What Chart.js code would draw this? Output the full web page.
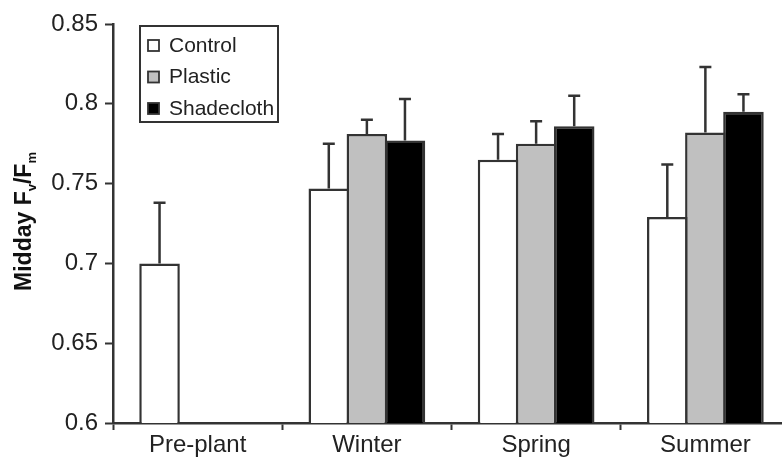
<!DOCTYPE html>
<html>
<head>
<meta charset="utf-8">
<script src="https://cdn.jsdelivr.net/npm/chart.js@4.4.0/dist/chart.umd.min.js"></script>
<style>
html, body { margin:0; padding:0; background:#fff; overflow:hidden; }
#wrap { width:790px; height:467px; }
</style>
</head>
<body>
<div id="wrap"><canvas id="chart1"></canvas></div>
<script>
// data
var categories = ['Pre-plant', 'Winter', 'Spring', 'Summer'];
var seriesNames = ['Control', 'Plastic', 'Shadecloth'];
var control = [0.700, 0.747, 0.765, 0.729];
var controlErr = [0.038, 0.028, 0.016, 0.033];
var plastic = [null, 0.781, 0.775, 0.782];
var plasticErr = [null, 0.009, 0.014, 0.041];
var shadecloth = [null, 0.777, 0.786, 0.795];
var shadeclothErr = [null, 0.026, 0.019, 0.011];
var yTicks = [0.6, 0.65, 0.7, 0.75, 0.8, 0.85];

var errors = [controlErr, plasticErr, shadeclothErr];
var fontName = "'Liberation Sans', Arial, sans-serif";
var ink = '#333';

function makeSet(label, data, fill) {
    return {
        label: label,
        data: data,
        backgroundColor: fill,
        borderColor: ink,
        borderWidth: 2.5,
        borderSkipped: false,
        inflateAmount: 0,
        barPercentage: 1.065,
        categoryPercentage: 0.675
    };
}

// error bars, only the upper half like in the figure
var errorBars = {
    id: 'errorBars',
    afterDatasetsDraw: function (chart) {
        var ctx = chart.ctx;
        var yScale = chart.scales.y;
        ctx.save();
        ctx.strokeStyle = ink;
        ctx.lineWidth = 2.5;
        chart.data.datasets.forEach(function (ds, i) {
            var meta = chart.getDatasetMeta(i);
            meta.data.forEach(function (bar, j) {
                var v = ds.data[j];
                var e = errors[i][j];
                if (v == null || e == null) return;
                var yTop = yScale.getPixelForValue(v + e);
                ctx.beginPath();
                ctx.moveTo(bar.x, bar.y);
                ctx.lineTo(bar.x, yTop);
                ctx.moveTo(bar.x - 6, yTop);
                ctx.lineTo(bar.x + 6, yTop);
                ctx.stroke();
            });
        });
        ctx.restore();
    }
};

// legend box inside the plot, top left
var boxLegend = {
    id: 'boxLegend',
    afterDraw: function (chart) {
        var ctx = chart.ctx;
        var a = chart.chartArea;
        var x0 = a.left + 27, y0 = a.top + 2;
        ctx.save();
        ctx.strokeStyle = ink;
        ctx.lineWidth = 2;
        ctx.strokeRect(x0, y0, 138, 96);
        ctx.font = '21px ' + fontName;
        ctx.textBaseline = 'middle';
        chart.data.datasets.forEach(function (ds, i) {
            var cy = y0 + 19 + i * 31.5;
            ctx.fillStyle = ds.backgroundColor;
            ctx.fillRect(x0 + 8, cy - 5, 11, 11);
            ctx.lineWidth = 1.8;
            ctx.strokeRect(x0 + 8, cy - 5, 11, 11);
            ctx.fillStyle = '#222';
            ctx.fillText(ds.label, x0 + 29, cy + 1);
        });
        ctx.restore();
    }
};

// y title with subscripts: Midday Fv/Fm
var yTitle = {
    id: 'yTitle',
    afterDraw: function (chart) {
        var ctx = chart.ctx;
        var a = chart.chartArea;
        var parts = [
            ['Midday F', 23, 0],
            ['v', 13, 5],
            ['/F', 23, 0],
            ['m', 13, 5]
        ];
        ctx.save();
        var total = 0;
        parts.forEach(function (p) {
            ctx.font = 'bold ' + p[1] + 'px ' + fontName;
            p.push(ctx.measureText(p[0]).width);
            total += p[3];
        });
        ctx.translate(31, (a.top + a.bottom) / 2 - 2);
        ctx.rotate(-Math.PI / 2);
        ctx.fillStyle = '#111';
        ctx.textBaseline = 'alphabetic';
        var x = -total / 2;
        parts.forEach(function (p) {
            ctx.font = 'bold ' + p[1] + 'px ' + fontName;
            ctx.fillText(p[0], x, p[2]);
            x += p[3];
        });
        ctx.restore();
    }
};

var ctx = document.getElementById('chart1').getContext('2d');
var myChart = new Chart(ctx, {
    type: 'bar',
    data: {
        labels: categories,
        datasets: [
            makeSet(seriesNames[0], control, '#ffffff'),
            makeSet(seriesNames[1], plastic, '#c0c0c0'),
            makeSet(seriesNames[2], shadecloth, '#000000')
        ]
    },
    options: {
        responsive: true,
        maintainAspectRatio: false,
        animation: false,
        layout: { padding: { left: 0, top: 24, right: 0, bottom: 0 } },
        plugins: {
            legend: { display: false },
            tooltip: { enabled: false }
        },
        scales: {
            x: {
                offset: true,
                grid: {
                    offset: true,
                    drawOnChartArea: false,
                    drawTicks: true,
                    tickLength: 7,
                    tickWidth: 2,
                    tickColor: ink
                },
                border: { color: ink, width: 2.5 },
                ticks: {
                    color: '#222',
                    padding: 1,
                    font: { family: fontName, size: 24 }
                },
                afterFit: function (s) { s.height = 44; }
            },
            y: {
                min: 0.6,
                max: 0.85,
                grid: {
                    drawOnChartArea: false,
                    tickLength: 8,
                    tickWidth: 2,
                    tickColor: ink
                },
                border: { color: ink, width: 2.5 },
                ticks: {
                    color: '#222',
                    padding: 7,
                    font: { family: fontName, size: 24 },
                    callback: function (v) { return String(Math.round(v * 100) / 100); }
                },
                afterBuildTicks: function (s) {
                    s.ticks = yTicks.map(function (v) { return { value: v }; });
                },
                afterFit: function (s) { s.width = 113; }
            }
        }
    },
    plugins: [errorBars, boxLegend, yTitle]
});
</script>
</body>
</html>
